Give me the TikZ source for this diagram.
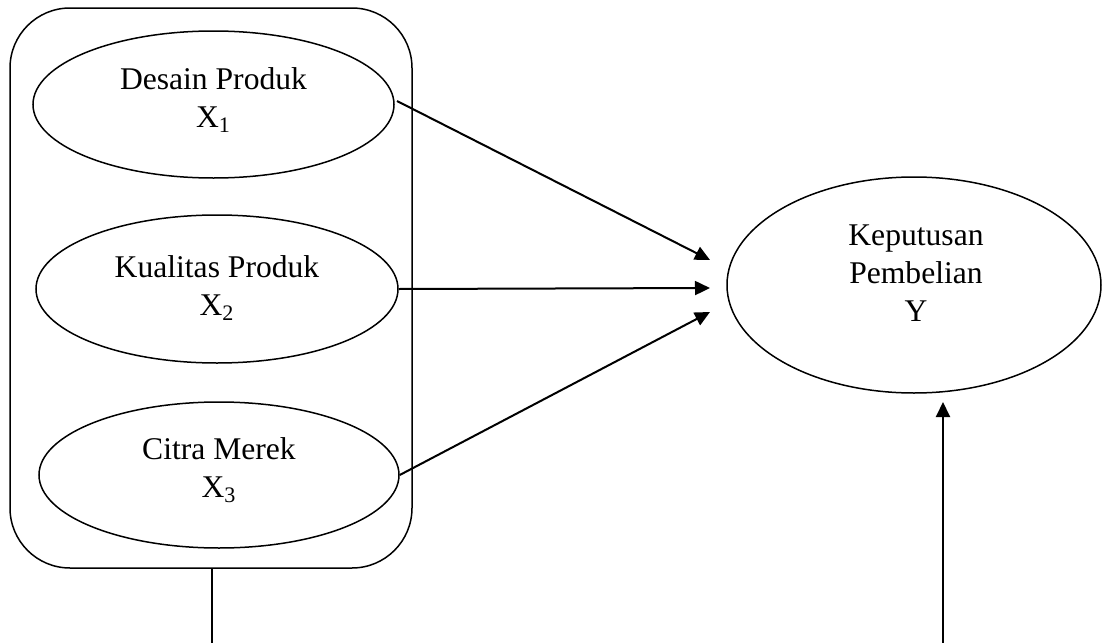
\documentclass[tikz,border=0pt]{standalone}
\usepackage{fontspec}
\setmainfont{Liberation Serif}
\usetikzlibrary{arrows.meta,shapes.geometric}
\tikzset{
  ell/.style={draw, line width=0.75pt, ellipse, inner sep=0pt},
  lbl/.style={align=center, font=\fontsize{15.8}{19}\selectfont, inner sep=0pt},
  arr/.style={line width=1pt, -{Triangle[length=7.5pt,width=7pt]}},
  conn/.style={line width=0.75pt}
}
\begin{document}
\begin{tikzpicture}[x=0.5pt,y=-0.5pt]
\useasboundingbox (0,0) rectangle (1105,643);
% group box
\node[draw, line width=0.75pt, rounded corners=30pt, minimum width=201pt, minimum height=280pt, inner sep=0pt] (box) at (211,288) {};
% ellipses
\node[ell, minimum width=180.5pt, minimum height=73.5pt] (x1) at (213.5,104.5) {};
\node[lbl] (x1t) at (213.5,100) {Desain Produk\\X\textsubscript{1}};
\node[ell, minimum width=181pt, minimum height=74pt] (x2) at (217,289) {};
\node[lbl] (x2t) at (217,288) {Kualitas Produk\\X\textsubscript{2}};
\node[ell, minimum width=180pt, minimum height=73pt] (x3) at (219,475) {};
\node[lbl] (x3t) at (219,470) {Citra Merek\\X\textsubscript{3}};
\node[ell, minimum width=187pt, minimum height=108pt] (y) at (914,285) {};
\node[lbl] (yt) at (916,273) {Keputusan\\Pembelian\\Y};
% arrow end points
\coordinate (e1) at (710,260);
\coordinate (e2) at (710,288);
\coordinate (e3) at (710,312);
\coordinate (bl) at (212,643);
\coordinate (br) at (943,643);
\coordinate (yb) at (943,402);
% connectors
\draw[arr] (397,101) -- (e1);
\draw[arr] (x2.east) -- (e2);
\draw[arr] (x3.east) -- (e3);
\draw[conn] (box.south -| bl) -- (bl);
\draw[arr] (br) -- (yb);
\end{tikzpicture}
\end{document}
